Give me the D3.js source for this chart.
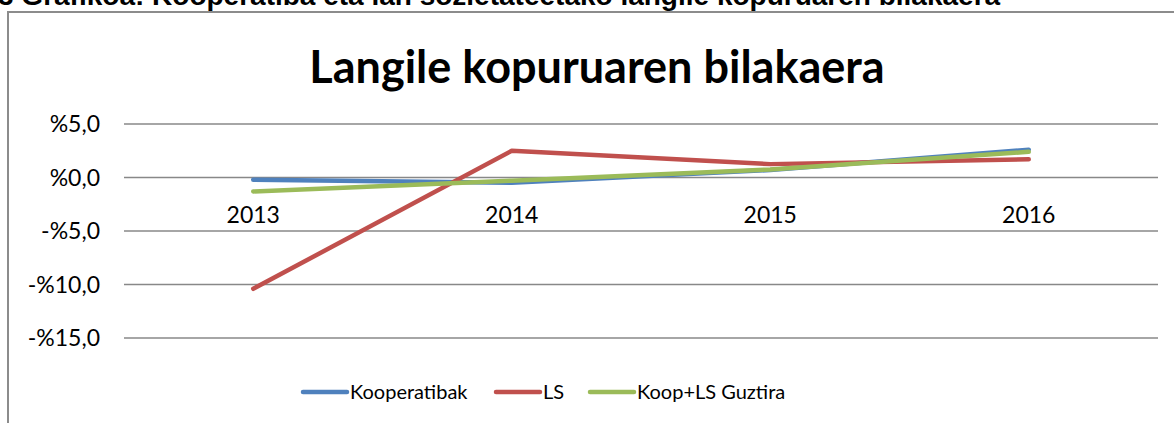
<!DOCTYPE html>
<html>
<head>
<meta charset="utf-8">
<script src="https://cdn.jsdelivr.net/npm/d3@7"></script>
<style>
  body { margin: 0; background: #fff; }
  svg { display: block; font-family: Lato, "Open Sans", sans-serif; }
</style>
</head>
<body>
<div id="chart"></div>
<script>
const years = ['2013', '2014', '2015', '2016'];
const kooperatibak = [-0.2, -0.5, 0.7, 2.6];
const ls = [-10.4, 2.5, 1.25, 1.7];
const guztira = [-1.3, -0.3, 0.75, 2.4];
const yTicks = [5, 0, -5, -10, -15];

const seriesNames = ['Kooperatibak', 'LS', 'Koop+LS Guztira'];
const seriesColors = ['#4F81BD', '#C0504D', '#9BBB59'];
const series = [kooperatibak, ls, guztira];

const width = 1174;
const height = 423;
const margin = { left: 124, right: 16 };

const svg = d3.select('#chart')
  .append('svg')
  .attr('width', width)
  .attr('height', height);

// caption of the document, cut off at the top in the source
svg.append('text')
  .attr('x', -2)
  .attr('y', 5)
  .style('font-family', '"Liberation Sans", Arial, sans-serif')
  .style('font-size', '28px')
  .style('font-weight', 'bold')
  .text('3 Grafikoa: Kooperatiba eta lan sozietateetako langile kopuruaren bilakaera');

// chart area border
svg.append('rect')
  .attr('x', 8)
  .attr('y', 12)
  .attr('width', 1300)
  .attr('height', 500)
  .attr('fill', 'none')
  .attr('stroke', '#8c8c8c')
  .attr('stroke-width', 2);

const x = d3.scaleBand()
  .domain(years)
  .range([margin.left, width - margin.right]);

const y = d3.scaleLinear()
  .domain([-15, 5])
  .range([338, 124]);

// gridlines
svg.append('g')
  .selectAll('line')
  .data(yTicks)
  .enter()
  .append('line')
  .attr('x1', margin.left)
  .attr('x2', width - margin.right)
  .attr('y1', d => y(d))
  .attr('y2', d => y(d))
  .attr('stroke', '#888')
  .attr('stroke-width', 1.5);

const fmt = d => (d < 0 ? '-%' : '%') + d3.format('.1f')(Math.abs(d)).replace('.', ',');

svg.append('g')
  .selectAll('text')
  .data(yTicks)
  .enter()
  .append('text')
  .attr('x', 100)
  .attr('y', d => y(d))
  .attr('dy', '0.35em')
  .attr('text-anchor', 'end')
  .style('font-size', '23px')
  .style('fill', '#000')
  .text(fmt);

// category labels sit just under the zero line
svg.append('g')
  .selectAll('text')
  .data(years)
  .enter()
  .append('text')
  .attr('x', d => x(d) + x.bandwidth() / 2)
  .attr('y', y(0) + 45)
  .attr('text-anchor', 'middle')
  .style('font-size', '23px')
  .style('fill', '#000')
  .text(d => d);

const line = d3.line()
  .x((d, i) => x(years[i]) + x.bandwidth() / 2)
  .y(d => y(d));

svg.append('g')
  .selectAll('path')
  .data(series)
  .enter()
  .append('path')
  .attr('d', line)
  .attr('fill', 'none')
  .attr('stroke', (d, i) => seriesColors[i])
  .attr('stroke-width', 4.5)
  .attr('stroke-linecap', 'round')
  .attr('stroke-linejoin', 'round');

// title
svg.append('text')
  .attr('x', 597)
  .attr('y', 83)
  .attr('text-anchor', 'middle')
  .style('font-size', '45px')
  .style('font-weight', 'bold')
  .style('fill', '#000')
  .text('Langile kopuruaren bilakaera');

// legend
const legendX = [303, 496, 590];
const legend = svg.append('g')
  .selectAll('g')
  .data(seriesNames)
  .enter()
  .append('g')
  .attr('transform', (d, i) => `translate(${legendX[i]},392)`);

legend.append('line')
  .attr('x1', 0)
  .attr('x2', 44)
  .attr('stroke', (d, i) => seriesColors[i])
  .attr('stroke-width', 4.5)
  .attr('stroke-linecap', 'round');

legend.append('text')
  .attr('x', 47)
  .attr('dy', '0.35em')
  .style('font-size', '20px')
  .style('fill', '#000')
  .text(d => d);
</script>
</body>
</html>
